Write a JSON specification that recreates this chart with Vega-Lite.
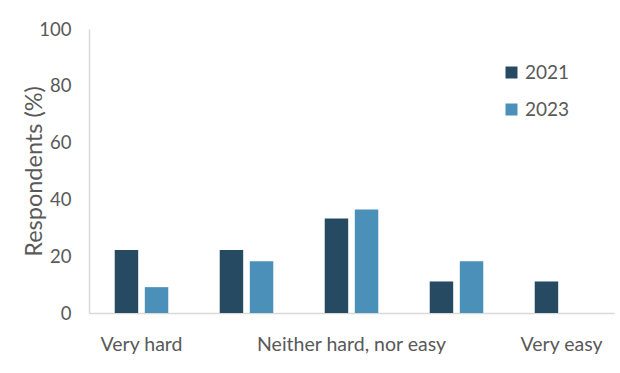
{
  "$schema": "https://vega.github.io/schema/vega-lite/v6.json",
  "autosize": {"type": "none"},
  "width": 525,
  "height": 284,
  "padding": {"left": 89, "top": 29, "right": 6, "bottom": 60},
  "background": "white",
  "data": {
    "values": [
      {"rating": "Very hard", "year": "2021", "pct": 22.2},
      {"rating": "Very hard", "year": "2023", "pct": 9.1},
      {"rating": "Hard", "year": "2021", "pct": 22.2},
      {"rating": "Hard", "year": "2023", "pct": 18.2},
      {"rating": "Neither hard, nor easy", "year": "2021", "pct": 33.3},
      {"rating": "Neither hard, nor easy", "year": "2023", "pct": 36.4},
      {"rating": "Easy", "year": "2021", "pct": 11.1},
      {"rating": "Easy", "year": "2023", "pct": 18.2},
      {"rating": "Very easy", "year": "2021", "pct": 11.1},
      {"rating": "Very easy", "year": "2023", "pct": 0}
    ]
  },
  "mark": {"type": "bar"},
  "encoding": {
    "x": {
      "field": "rating",
      "type": "nominal",
      "sort": ["Very hard", "Hard", "Neither hard, nor easy", "Easy", "Very easy"],
      "scale": {"paddingInner": 0.49, "paddingOuter": 0.245},
      "axis": {
        "title": null,
        "labelAngle": 0,
        "labelExpr": "datum.value == 'Hard' || datum.value == 'Easy' ? '' : datum.label",
        "labelPadding": 22,
        "labelFontSize": 19.5,
        "labelLimit": 0,
        "labelOverlap": false,
        "ticks": false
      }
    },
    "xOffset": {
      "field": "year",
      "type": "nominal",
      "scale": {"paddingInner": 0.22, "paddingOuter": 0}
    },
    "y": {
      "field": "pct",
      "type": "quantitative",
      "scale": {"domain": [0, 100]},
      "axis": {
        "title": "Respondents (%)",
        "values": [0, 20, 40, 60, 80, 100],
        "grid": false,
        "ticks": false,
        "labelPadding": 18,
        "labelFontSize": 18.5,
        "titlePadding": -8,
        "titleFontSize": 23.5
      }
    },
    "color": {
      "field": "year",
      "type": "nominal",
      "scale": {"domain": ["2021", "2023"], "range": ["#264a62", "#4a90b9"]},
      "legend": {
        "title": null,
        "orient": "none",
        "legendX": 413,
        "legendY": 34,
        "symbolType": "square",
        "symbolSize": 144,
        "symbolStrokeWidth": 0,
        "labelOffset": 4,
        "rowPadding": 17,
        "labelFontSize": 19,
        "labelFont": "Lato",
        "labelColor": "#595959"
      }
    }
  },
  "config": {
    "view": {"stroke": null},
    "axis": {
      "labelFont": "Lato",
      "titleFont": "Lato",
      "labelColor": "#595959",
      "titleColor": "#595959",
      "titleFontWeight": "normal",
      "domainColor": "#d9d9d9",
      "domainWidth": 1.5
    }
  }
}
